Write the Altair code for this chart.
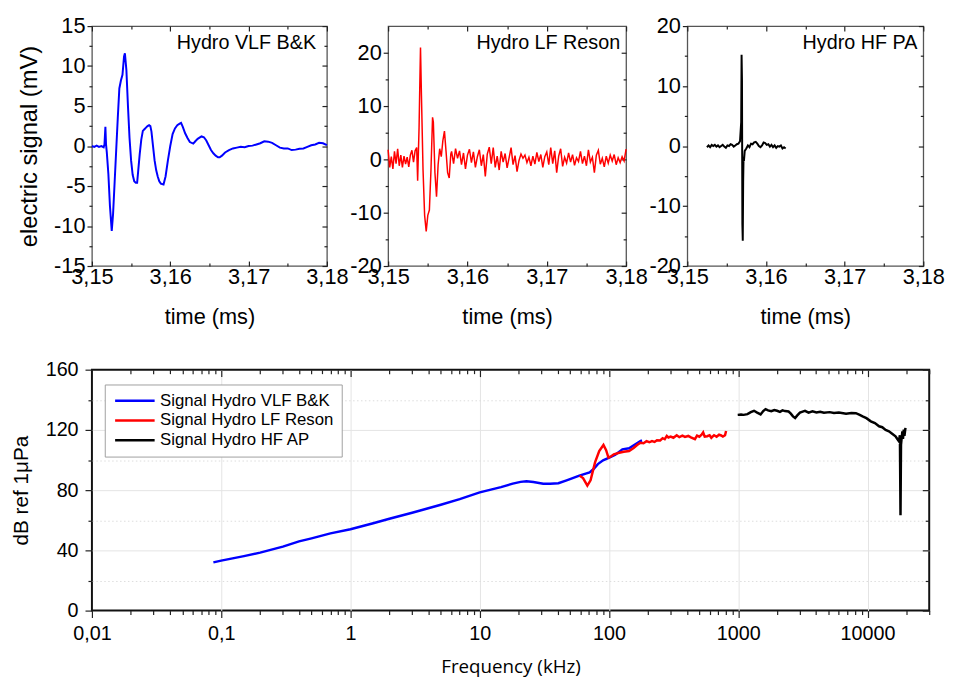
import altair as alt
import pandas as pd

FONT = "Liberation Sans"

# ---------------- time signals (t in ms, signal in mV) ----------------
VLF_WAVE = [
    (3.1500, 0.0), (3.1503, -0.1), (3.1506, 0.05), (3.1509, -0.1), (3.1512, 0.0),
    (3.1515, -0.15), (3.1516, 0.2), (3.15172, 2.4), (3.1518, 0.2), (3.1519, -0.8),
    (3.1521, -3.5), (3.1523, -7.5), (3.15253, -10.6), (3.1527, -8.5), (3.1529, -4.5),
    (3.1531, -0.5), (3.1533, 3.5), (3.1535, 7.2), (3.1537, 8.2), (3.1539, 8.9),
    (3.1541, 11.2), (3.15421, 11.6), (3.1544, 9.5), (3.1546, 5.0), (3.1548, 1.0),
    (3.1550, -1.8), (3.1552, -3.6), (3.1554, -4.4), (3.1556, -4.6), (3.15577, -4.6),
    (3.1559, -3.2), (3.1561, -1.0), (3.1563, 0.8), (3.1565, 1.9), (3.1567, 2.1),
    (3.1569, 2.3), (3.1571, 2.5), (3.1573, 2.6), (3.15746, 2.5), (3.1576, 1.8),
    (3.1578, 0.0), (3.1580, -1.8), (3.1582, -3.0), (3.1584, -3.8), (3.1586, -4.4),
    (3.1588, -4.7), (3.15914, -4.8), (3.1594, -3.8), (3.1597, -1.8), (3.1600, 0.0),
    (3.1603, 1.5), (3.1606, 2.2), (3.1609, 2.6), (3.1612, 2.8), (3.16138, 2.9),
    (3.1616, 2.4), (3.1619, 1.6), (3.1622, 1.0), (3.1625, 0.5), (3.16294, 0.3),
    (3.1632, 0.6), (3.1635, 0.9), (3.16399, 1.2), (3.1643, 1.1), (3.1646, 0.7),
    (3.1649, 0.1), (3.1652, -0.5), (3.1655, -0.9), (3.1658, -1.2), (3.1661, -1.4),
    (3.16631, -1.4), (3.1666, -1.2), (3.1670, -0.8), (3.1675, -0.5), (3.1680, -0.3),
    (3.1685, -0.2), (3.1690, -0.1), (3.1695, -0.15), (3.1700, 0.0), (3.1705, 0.05),
    (3.1710, 0.2), (3.1715, 0.35), (3.1720, 0.6), (3.1725, 0.55), (3.1730, 0.4),
    (3.1735, 0.1), (3.1740, -0.2), (3.1745, -0.3), (3.1750, -0.3), (3.1755, -0.5),
    (3.1760, -0.45), (3.1765, -0.35), (3.1770, -0.3), (3.1775, -0.1), (3.1780, 0.1),
    (3.1785, 0.2), (3.1790, 0.4), (3.1795, 0.35), (3.1800, 0.1),
]

LF_WAVE = [
    (3.1500, 1.8), (3.1502, -1.5), (3.1504, 0.5), (3.1506, -1.8), (3.1508, 1.5),
    (3.1510, -0.8), (3.1512, 2.0), (3.1514, -1.2), (3.1516, 0.8), (3.1518, -1.5),
    (3.1520, 0.6), (3.1522, -0.9), (3.1524, 0.4), (3.1526, -1.4), (3.1528, 0.8),
    (3.1530, 1.7), (3.1532, -0.5), (3.1534, 1.6), (3.1536, 2.2), (3.15372, -4.0),
    (3.1539, 6.0), (3.1540, 14.5), (3.15408, 21.0), (3.1542, 12.0), (3.1544, -2.0),
    (3.1546, -10.5), (3.1548, -13.5), (3.1550, -10.5), (3.1552, -9.5), (3.1554, -2.0),
    (3.1556, 7.9), (3.1557, 7.0), (3.1559, -2.5), (3.1561, -7.0), (3.1563, -1.0),
    (3.1565, 2.0), (3.1567, 0.5), (3.1569, 3.5), (3.1571, 5.3), (3.1573, 1.5),
    (3.1575, -2.5), (3.1577, -3.5), (3.1579, 1.0),
    (3.15800, 1.5), (3.15825, -0.8), (3.15850, 2.0), (3.15875, 0.2), (3.15900, 1.6),
    (3.15925, -1.0), (3.15950, 1.2), (3.15975, -1.8), (3.16000, 0.8), (3.16025, 1.9),
    (3.16050, -0.6), (3.16075, 1.4), (3.16100, -1.5), (3.16125, 0.5), (3.16150, 1.8),
    (3.16175, -1.2), (3.16200, 0.9), (3.16225, -3.2), (3.16250, 1.0), (3.16275, 2.3),
    (3.16300, -0.8), (3.16325, 2.2), (3.16350, -1.5), (3.16375, 0.6), (3.16400, -2.0),
    (3.16425, 1.5), (3.16450, -0.5), (3.16475, 1.1), (3.16500, -1.6), (3.16525, 0.3),
    (3.16550, 2.2), (3.16575, -1.0), (3.16600, 0.7), (3.16625, -2.3), (3.16650, -0.2),
    (3.16675, 1.0), (3.16700, 0.2), (3.16725, 0.8), (3.16750, -0.6), (3.16775, 0.4),
    (3.16800, -1.2), (3.16825, 0.6), (3.16850, -0.9), (3.16875, 1.3), (3.16900, -0.4),
    (3.16925, 0.9), (3.16950, -1.5), (3.16975, 0.5), (3.17000, 1.4), (3.17025, -1.0),
    (3.17050, 2.2), (3.17075, -0.8), (3.17100, 1.6), (3.17125, -2.5), (3.17150, 0.6),
    (3.17175, 2.0), (3.17200, -1.3), (3.17225, 0.4), (3.17250, -0.7), (3.17275, 1.2),
    (3.17300, -0.5), (3.17325, 0.9), (3.17350, -1.1), (3.17375, 0.3), (3.17400, -0.4),
    (3.17425, 1.5), (3.17450, -0.8), (3.17475, 0.6), (3.17500, -1.2), (3.17525, 1.8),
    (3.17550, -0.5), (3.17575, 0.4), (3.17600, -2.5), (3.17625, 0.8), (3.17650, 1.7),
    (3.17675, -0.9), (3.17700, 0.2), (3.17725, -1.4), (3.17750, 0.6), (3.17775, -0.7),
    (3.17800, 0.8), (3.17825, -0.3), (3.17850, 0.9), (3.17875, -1.0), (3.17900, 0.3),
    (3.17925, -0.6), (3.17950, 0.5), (3.17975, -0.3), (3.18000, 1.9),
]

HF_WAVE = [
    (3.1525, -0.2), (3.1527, 0.1), (3.1529, -0.2), (3.1531, 0.2), (3.1533, 0.0),
    (3.1535, 0.2), (3.1537, -0.1), (3.1539, 0.1), (3.1541, -0.2), (3.1543, 0.0),
    (3.1545, 0.2), (3.1547, -0.1), (3.1549, -0.3), (3.1551, 0.1), (3.1553, 0.0),
    (3.1555, 0.3), (3.1557, 0.2), (3.1559, -0.1), (3.1561, 0.1), (3.1563, 0.3),
    (3.1565, 0.4), (3.1567, 0.8), (3.15685, 4.0), (3.1569, 15.2), (3.15695, 11.0),
    (3.1570, -13.0), (3.15705, -15.8), (3.1571, -6.0), (3.15715, -1.8), (3.1572, -2.5),
    (3.1573, -0.8), (3.1575, -0.4), (3.1577, 0.1), (3.1579, -0.2), (3.1581, 0.4),
    (3.1583, 0.3), (3.1585, 0.6), (3.1587, 0.7), (3.1589, 0.4), (3.1591, 0.0),
    (3.1593, -0.2), (3.1595, 0.1), (3.1597, 0.6), (3.1599, 0.5), (3.1601, 0.2),
    (3.1603, 0.3), (3.1605, -0.1), (3.1607, 0.2), (3.1609, -0.2), (3.1611, 0.1),
    (3.1613, -0.3), (3.1615, 0.0), (3.1617, -0.1), (3.1619, 0.1), (3.1621, -0.4),
    (3.1623, -0.2), (3.1625, -0.4),
]

# ---------------- spectra (f in kHz, level in dB ref 1 uPa) ----------------
SPEC_VLF = [
    (0.087, 32.0), (0.1, 33.2), (0.15, 36.2), (0.2, 38.5), (0.3, 42.5), (0.4, 46.0),
    (0.5, 48.0), (0.7, 51.3), (1.0, 54.0), (1.5, 58.0), (2.0, 61.0), (3.0, 65.0),
    (4.0, 68.0), (5.0, 70.3), (7.0, 74.0), (10.0, 78.5), (14.6, 82.0), (18.0, 84.3),
    (20.7, 85.5), (23.0, 85.9), (26.0, 85.4), (31.0, 84.3), (35.0, 84.2), (40.6, 84.6),
    (47.0, 86.5), (59.0, 89.6), (70.8, 91.8), (76.0, 94.0), (82.0, 97.3), (90.0, 99.8),
    (100.5, 101.6), (112.0, 103.5), (127.0, 107.1), (143.0, 107.8), (160.0, 110.5),
    (175.0, 112.6), (180.0, 113.0),
]
SPEC_LF = [
    (59.3, 89.6), (63.0, 88.0), (68.0, 83.0), (72.0, 86.5), (78.0, 98.4), (84.0, 106.0),
    (90.6, 110.0), (95.0, 106.5), (99.0, 101.6), (104.0, 102.5), (109.0, 103.8),
    (120.0, 104.8), (130.0, 105.5), (143.0, 106.0), (155.0, 108.0), (165.0, 110.0),
    (175.0, 111.5), (185.0, 111.2), (195.0, 112.5), (205.0, 111.8), (215.0, 112.6),
    (225.0, 112.0), (235.0, 113.2), (249.0, 113.0), (260.0, 114.5), (270.0, 113.8),
    (280.0, 116.0), (288.0, 115.0), (300.0, 115.6), (315.0, 114.8), (334.0, 116.5),
    (350.0, 115.2), (370.0, 116.2), (387.0, 115.4), (410.0, 116.0), (430.0, 115.0),
    (462.0, 113.8), (480.0, 116.2), (500.0, 115.5), (520.0, 116.8), (535.0, 118.3),
    (550.0, 115.5), (575.0, 115.8), (600.0, 116.5), (619.0, 114.8), (650.0, 116.5),
    (680.0, 115.5), (710.0, 116.8), (738.0, 116.3), (760.0, 115.6), (790.0, 116.5),
    (805.0, 119.3),
]
SPEC_HF = [
    (990, 130.0), (1050, 130.2), (1100, 130.0), (1178, 130.5), (1250, 131.8),
    (1324, 132.7), (1400, 131.5), (1489, 130.3), (1560, 132.5), (1626, 133.8),
    (1700, 133.0), (1800, 132.4), (1900, 133.2), (1995, 132.7), (2100, 132.0),
    (2200, 133.0), (2300, 132.5), (2450, 132.2), (2550, 130.8), (2650, 129.0),
    (2754, 127.9), (2850, 129.5), (3000, 131.5), (3150, 132.2), (3283, 132.7),
    (3500, 131.5), (3750, 132.3), (4027, 131.6), (4300, 132.0), (4600, 131.4),
    (5093, 131.8), (5500, 131.3), (6000, 131.5), (6823, 130.7), (7500, 131.2),
    (8130, 131.1), (8700, 130.0), (9158, 129.0), (9800, 127.8), (10600, 125.7),
    (11400, 124.5), (12280, 122.4), (13000, 121.8), (13800, 120.0), (14650, 119.1),
    (15500, 117.5), (16460, 115.8), (17000, 114.0), (17470, 112.6), (17800, 116.5),
    (17990, 63.4), (18150, 110.0), (18320, 113.7), (18600, 119.0), (18800, 114.0),
    (19070, 120.2), (19300, 116.0), (19650, 121.3),
]

SERIES_NAMES = ["Signal Hydro VLF B&K", "Signal Hydro LF Reson", "Signal Hydro HF AP"]
SERIES_COLORS = ["#0000ff", "#ff0000", "#000000"]
PANEL_LABELS = ["Hydro VLF B&K", "Hydro LF Reson", "Hydro HF PA"]

TIME_MAJOR = [3.15, 3.16, 3.17, 3.18]
TIME_MINOR = [3.155, 3.165, 3.175]
FREQ_MAJOR = [0.01, 0.1, 1, 10, 100, 1000, 10000]
FREQ_MINOR = [k * d for d in FREQ_MAJOR for k in range(2, 10) if k * d <= 30000]
DB_MAJOR = [0, 40, 80, 120, 160]
DB_MINOR = [20, 60, 100, 140]

HYPHEN_EXPR = "replace(datum.label, '\u2212', '-')"


def axis(orient, values, tick=0, offset=0, **kw):
    d = dict(orient=orient, values=values, domain=False, grid=False, labels=False,
             title=None, offset=offset, labelOverlap=False, labelFlush=False,
             tickColor="#222", tickWidth=1.2)
    if tick > 0:
        d.update(ticks=True, tickSize=tick)
    else:
        d.update(ticks=False)
    d.update(kw)
    return alt.Axis(**d)


def spacer():
    # invisible anchor that gives every row the same left extent
    return alt.Chart(pd.DataFrame({"s": ["."]})).mark_text(
        align="left", baseline="middle", fontSize=4, opacity=0
    ).encode(x=alt.value(-84), y=alt.value(100), text="s:N")


def wave_panel(pairs, color, ydom, ymaj, ymin, label, label_right, width, ytitle, line_w):
    df = pd.DataFrame(pairs, columns=["t", "v"])
    xs = alt.Scale(domain=[3.15, 3.18], nice=False, zero=False)
    ys = alt.Scale(domain=ydom, nice=False, zero=False)
    base = alt.Chart(df)

    def X(a):
        return alt.X("t:Q", scale=xs, axis=a)

    def Y(a):
        return alt.Y("v:Q", scale=ys, axis=a)

    yextra = {}
    if ytitle:
        yextra = dict(title=ytitle, titleFont=FONT, titleFontSize=24,
                      titleFontWeight="normal", titleColor="#000", titlePadding=12)
    main = base.mark_line(color=color, strokeWidth=line_w).encode(
        x=X(axis("bottom", TIME_MAJOR, labels=True,
                 labelExpr="replace(format(datum.value, '.2f'), '.', ',')",
                 labelFont=FONT, labelFontSize=22, labelColor="#000", labelPadding=1,
                 title="time (ms)", titleFont=FONT, titleFontSize=22,
                 titleFontWeight="normal", titleColor="#000", titlePadding=19)),
        y=Y(axis("left", ymaj, tick=5, labels=True, labelExpr=HYPHEN_EXPR,
                 labelFont=FONT, labelFontSize=22, labelColor="#000", labelPadding=2,
                 **yextra)),
    )
    l2 = base.mark_line(opacity=0).encode(
        x=X(axis("bottom", TIME_MAJOR, tick=5, offset=-5)),
        y=Y(axis("left", ymin, tick=3)),
    )
    l3 = base.mark_line(opacity=0).encode(
        x=X(axis("top", TIME_MAJOR, tick=5, offset=-5)),
        y=Y(axis("right", ymaj, tick=5, offset=-5)),
    )
    l4 = base.mark_line(opacity=0).encode(
        x=X(axis("top", TIME_MINOR, tick=3, offset=-3)),
        y=Y(axis("right", ymin, tick=3, offset=-3)),
    )
    l5 = base.mark_line(opacity=0).encode(
        x=X(axis("bottom", TIME_MINOR, tick=3, offset=-3)),
        y=Y(None),
    )
    txt = alt.Chart(pd.DataFrame({"label": [label]})).mark_text(
        align="right", baseline="middle", font=FONT, fontSize=20, color="#000"
    ).encode(x=alt.value(width - label_right), y=alt.value(17), text="label:N")
    layers = [main, l2, l3, l4, l5, txt]
    if ytitle:
        layers.append(spacer())
    return alt.layer(*layers).resolve_axis(
        x="independent", y="independent"
    ).properties(width=width, height=243,
                 view=alt.ViewBackground(stroke="#555", strokeWidth=1.3))


p1 = wave_panel(VLF_WAVE, SERIES_COLORS[0], [-15, 15], [-15, -10, -5, 0, 5, 10, 15],
                [-12.5, -7.5, -2.5, 2.5, 7.5, 12.5], PANEL_LABELS[0], 11, 238,
                "electric signal (mV)", 2)
p2 = wave_panel(LF_WAVE, SERIES_COLORS[1], [-20, 25], [-20, -10, 0, 10, 20],
                [-15, -5, 5, 15], PANEL_LABELS[1], 6, 241, None, 1.5)
p3 = wave_panel(HF_WAVE, SERIES_COLORS[2], [-20, 20], [-20, -10, 0, 10, 20],
                [-15, -5, 5, 15], PANEL_LABELS[2], 6, 239, None, 2)

# ---------------- bottom spectrum panel ----------------
rows = []
for name, pairs in zip(SERIES_NAMES, [SPEC_VLF, SPEC_LF, SPEC_HF]):
    for f, db in pairs:
        rows.append({"f": f, "db": db, "series": name})
spec = pd.DataFrame(rows)

fxs = alt.Scale(type="log", domain=[0.01, 30000], nice=False)
fys = alt.Scale(domain=[0, 160], nice=False, zero=False)
sb = alt.Chart(spec)


def FX(a):
    return alt.X("f:Q", scale=fxs, axis=a)


def FY(a):
    return alt.Y("db:Q", scale=fys, axis=a)


g1 = sb.mark_line(opacity=0).encode(
    x=FX(axis("bottom", FREQ_MAJOR[1:], grid=True, gridColor="#e4e4e4", gridWidth=1)),
    y=FY(axis("left", DB_MAJOR[1:-1], grid=True, gridColor="#e4e4e4", gridWidth=1)),
    detail="series:N",
)
g2 = sb.mark_line(opacity=0).encode(
    x=FX(None),
    y=FY(axis("left", DB_MINOR, grid=True, gridColor="#dcdcdc", gridWidth=1,
              gridDash=[1.5, 2.5])),
    detail="series:N",
)
smain = sb.mark_line(strokeWidth=2.5).encode(
    x=FX(axis("bottom", FREQ_MAJOR, tick=7, labels=True,
              labelExpr="replace(format(datum.value, '~g'), '.', ',')",
              labelFont=FONT, labelFontSize=20, labelColor="#000", labelPadding=6.5,
              title="Frequency (kHz)", titleFont="Open Sans", titleFontSize=19,
              titleFontWeight="normal", titleColor="#000", titlePadding=14)),
    y=FY(axis("left", DB_MAJOR, tick=7, labels=True, labelFont=FONT, labelFontSize=20,
              labelColor="#000", labelPadding=7, title="dB ref 1μPa", titleFont=FONT,
              titleFontSize=21, titleFontWeight="normal", titleColor="#000",
              titlePadding=13.5)),
    color=alt.Color("series:N", scale=alt.Scale(domain=SERIES_NAMES, range=SERIES_COLORS),
                    legend=alt.Legend(title=None, orient="none", legendX=13, legendY=363,
                                      symbolType="M-3,0H3", symbolSize=178,
                                      symbolStrokeWidth=2.5, symbolOffset=14,
                                      labelOffset=17, labelFont=FONT, labelFontSize=17,
                                      labelColor="#000", strokeColor="#a0a0a0",
                                      fillColor="#ffffff", padding=8, rowPadding=2,
                                      labelLimit=400)),
)
b2 = sb.mark_line(opacity=0).encode(
    x=FX(axis("bottom", FREQ_MINOR, tick=4)),
    y=FY(axis("left", DB_MINOR, tick=4)),
    detail="series:N",
)
b3 = sb.mark_line(opacity=0).encode(
    x=FX(axis("top", FREQ_MAJOR, tick=7, offset=-7)),
    y=FY(axis("right", DB_MAJOR, tick=7, offset=-7)),
    detail="series:N",
)
b4 = sb.mark_line(opacity=0).encode(
    x=FX(axis("top", FREQ_MINOR, tick=4, offset=-4)),
    y=FY(axis("right", DB_MINOR, tick=4, offset=-4)),
    detail="series:N",
)
bottom = alt.layer(g1, g2, smain, b2, b3, b4, spacer()).resolve_axis(
    x="independent", y="independent"
).properties(width=848, height=244,
             view=alt.ViewBackground(stroke="#111", strokeWidth=2))

top = alt.hconcat(p1, p2, p3, spacing=62, bounds="flush")
chart = alt.vconcat(top, bottom, spacing=31).properties(
    padding={"left": 0, "top": 2, "right": 0, "bottom": 0}
).configure(font=FONT)

chart.save("out.html", embed_options={"renderer": "svg", "actions": False})
